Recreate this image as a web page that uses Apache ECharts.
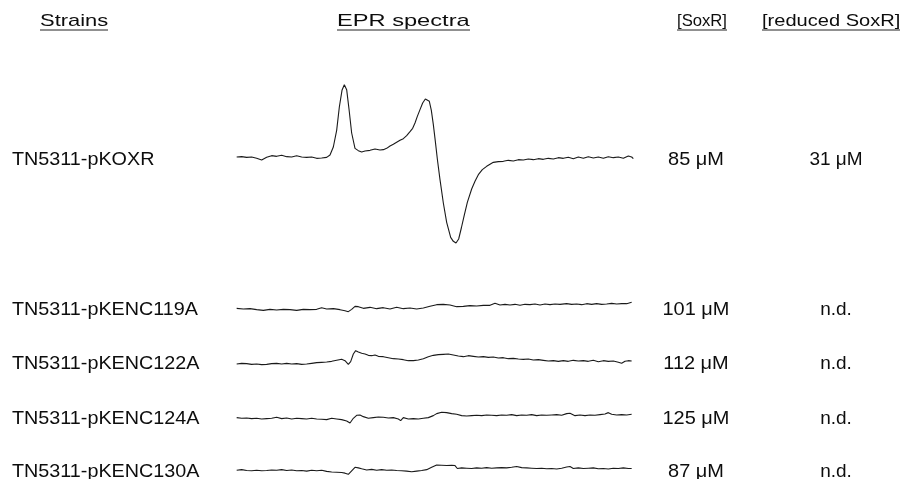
<!DOCTYPE html>
<html><head><meta charset="utf-8">
<script src="https://cdn.jsdelivr.net/npm/echarts@6/dist/echarts.min.js"></script>
<style>html,body{margin:0;padding:0;background:#fff}#c{width:913px;height:479px}</style>
</head><body><div id="c"></div>
<script>
// ---- data ----
const headers = ['Strains', 'EPR spectra', '[SoxR]', '[reduced SoxR]'];
const strains = ['TN5311-pKOXR', 'TN5311-pKENC119A', 'TN5311-pKENC122A', 'TN5311-pKENC124A', 'TN5311-pKENC130A'];
const soxr = ['85 μM', '101 μM', '112 μM', '125 μM', '87 μM'];
const reducedSoxr = ['31 μM', 'n.d.', 'n.d.', 'n.d.', 'n.d.'];

// field positions (arbitrary units) and signal (arbitrary units, up = positive)
const koxrField = [20,35,50,65,80,95,110,125,140,155,170,185,200,215,230,245,260,275,290,300,310,320,328,336,343,350,357,365,375,385,395,405,420,435,450,460,470,480,490,500,510,520,530,540,548,555,562,570,578,586,592,598,604,610,616,622,630,640,650,662,670,678,686,694,702,712,725,735,745,757,770,780,790,805,820,835,850,865,880,895,910,925,940,955,970,985,1000,1015,1030,1045,1060,1075,1090,1105,1120,1135,1150,1165,1180,1195,1205,1210];
const koxrSignal = [0,1,-1,0,-4,-9,-1,4,2,5,1,0,4,0,-1,0,-4,-3,-1,6,30,80,150,200,217,202,144,72,26,19,15,18,20,24,21,22,26,33,38,44,50,55,64,76,86,102,122,142,162,174,177,167,140,97,47,-6,-68,-138,-196,-241,-253,-258,-246,-213,-178,-136,-96,-73,-53,-38,-28,-22,-16,-14,-13,-10,-12,-8,-9,-6,-8,-5,-7,-4,-6,-2,-4,-1,-5,0,-4,1,-3,0,-4,1,-2,0,-4,3,0,-5];

const c119Field = [20,40,60,80,100,120,140,160,180,200,220,240,260,275,290,310,330,345,355,365,375,385,400,420,440,460,480,500,520,540,560,580,600,620,640,660,680,700,720,740,760,780,795,810,825,840,855,870,885,900,915,930,945,960,975,990,1010,1025,1040,1055,1070,1085,1100,1115,1130,1145,1160,1175,1190,1205];
const c119Signal = [2,0,1,-2,-4,-1,-3,-1,-2,-4,-1,-2,-1,4,0,1,-2,-5,-8,-1,8,7,2,5,1,4,0,5,1,3,0,3,8,13,14,12,7,8,10,9,11,11,17,12,14,12,14,11,14,13,15,12,15,13,15,14,16,14,15,13,16,14,16,14,15,17,15,16,16,20];

const c122Field = [20,35,50,65,80,95,110,125,140,155,170,185,200,215,230,245,260,275,290,305,320,335,345,355,362,370,377,385,395,405,415,425,435,445,460,475,490,505,520,535,550,565,580,595,610,625,640,655,670,685,700,715,730,745,760,775,790,805,820,835,850,865,880,895,910,925,940,955,970,985,1000,1015,1030,1045,1060,1075,1090,1105,1120,1135,1150,1165,1175,1185,1195,1205];
const c122Signal = [0,2,1,-1,0,-2,-1,1,2,0,2,0,1,-1,0,2,4,5,6,8,11,14,10,-1,7,30,40,36,32,30,26,25,27,23,22,19,16,15,13,10,10,12,16,22,26,28,29,30,27,24,22,25,23,21,22,20,21,18,19,16,17,15,14,15,12,13,11,9,10,8,10,8,11,9,10,8,11,7,10,8,9,5,2,8,10,9];

const c124Field = [20,35,50,65,80,95,110,125,140,155,170,185,200,215,230,245,260,275,290,305,320,335,350,360,370,380,390,400,415,430,445,460,475,490,505,512,520,535,550,565,580,595,610,620,635,650,665,680,695,710,725,740,755,770,785,800,815,830,845,860,875,890,905,920,935,950,965,980,995,1010,1020,1035,1050,1065,1080,1095,1110,1125,1135,1145,1160,1175,1190,1205];
const c124Signal = [2,0,1,-1,0,-2,-1,0,3,-1,1,-2,0,-1,-2,0,-2,-3,-4,0,-2,-4,-8,-14,0,9,10,5,0,2,4,3,1,2,-2,-7,2,-2,-1,-2,0,2,8,14,18,17,14,12,8,7,8,9,8,10,9,8,10,9,11,8,10,9,11,8,10,9,10,11,9,14,15,8,10,8,10,9,11,13,17,12,10,11,10,12];

const c130Field = [20,35,50,65,80,95,110,125,140,155,170,185,200,215,230,245,260,275,290,305,320,335,345,355,365,375,385,395,410,425,440,455,470,485,500,515,530,545,560,575,590,605,620,635,650,665,675,682,695,710,725,740,755,770,785,800,815,830,845,860,875,890,905,920,935,950,965,980,995,1010,1020,1030,1045,1060,1075,1090,1105,1120,1135,1150,1165,1180,1195,1205];
const c130Signal = [0,2,-1,-2,0,-2,-1,1,0,2,-1,1,-2,-1,-3,0,-2,0,-4,-6,-7,-8,-10,-14,-2,10,8,5,1,3,0,2,0,1,-1,-2,-3,-5,-3,-1,2,10,18,17,16,17,16,6,8,7,6,8,7,9,7,8,9,8,10,13,9,8,7,6,7,5,6,4,7,11,13,6,8,6,7,8,5,6,4,7,6,8,6,6];

// ---- layout ----
const fields = [koxrField, c119Field, c122Field, c124Field, c130Field];
const signals = [koxrSignal, c119Signal, c122Signal, c124Signal, c130Signal];
const baselines = [157, 309, 364, 418.3, 472.7];
const yRanges = [[-270, 231], [-30, 60], [-30, 60], [-30, 60], [-30, 60]];
const heights = [167, 30, 30, 30, 30];

const grids = [], xAxes = [], yAxes = [], series = [];
fields.forEach((f, i) => {
  const [mn, mx] = yRanges[i];
  const top = baselines[i] - heights[i] * mx / (mx - mn);
  grids.push({ left: 230, width: 410, top: top, height: heights[i] });
  xAxes.push({ gridIndex: i, type: 'value', min: 0, max: 1230, show: false });
  yAxes.push({ gridIndex: i, type: 'value', min: mn, max: mx, show: false });
  series.push({
    type: 'line', xAxisIndex: i, yAxisIndex: i, symbol: 'none', silent: true,
    lineStyle: { color: '#1a1a1a', width: 1.1 },
    data: f.map((v, j) => [v, signals[i][j]])
  });
});

const FONT = '"Liberation Sans", Arial, Helvetica, sans-serif';
const graphic = [];
function txt(s, x, y, size, sx) {
  graphic.push({ type: 'text', x: x, y: y, scaleX: sx, silent: true,
    style: { text: s, font: size + 'px ' + FONT, fill: '#0d0d0d', textAlign: 'left', textVerticalAlign: 'middle' } });
}
// headers with underlines
const headerLeft = [40, 337, 677, 762];
const headerRight = [108, 470, 727, 900];
const headerScale = [1.29, 1.39, 0.98, 1.18];
headers.forEach((h, i) => {
  txt(h, headerLeft[i], 21, 17, headerScale[i]);
  graphic.push({ type: 'line', silent: true, shape: { x1: headerLeft[i], y1: 30, x2: headerRight[i], y2: 30 },
    style: { stroke: '#222', lineWidth: 1 } });
});
const rowY = [160, 309.5, 364, 418.5, 472];
strains.forEach((s, i) => txt(s, 12, rowY[i], 19, 1.04));
const soxrCenter = 696, redCenter = 836;
soxr.forEach((s, i) => graphic.push({ type: 'text', x: soxrCenter, y: rowY[i], scaleX: 1.05, silent: true,
  style: { text: s, font: '19px ' + FONT, fill: '#0d0d0d', textAlign: 'center', textVerticalAlign: 'middle' } }));
reducedSoxr.forEach((s, i) => graphic.push({ type: 'text', x: redCenter, y: rowY[i], silent: true,
  style: { text: s, font: '19px ' + FONT, fill: '#0d0d0d', textAlign: 'center', textVerticalAlign: 'middle' } }));

const chart = echarts.init(document.getElementById('c'), null, { renderer: 'canvas' });
chart.setOption({
  backgroundColor: '#fff',
  animation: false,
  grid: grids, xAxis: xAxes, yAxis: yAxes, series: series,
  graphic: graphic
});
</script></body></html>
